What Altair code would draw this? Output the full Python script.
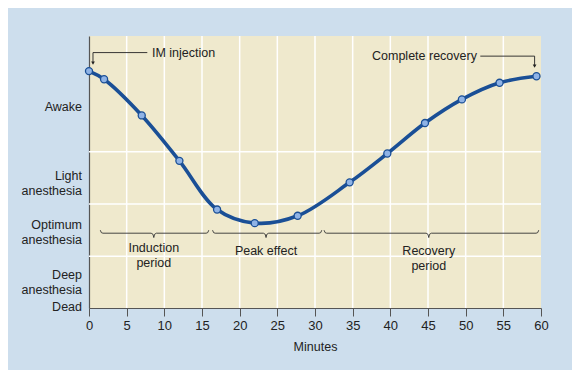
import altair as alt
import pandas as pd

# Curve data (minutes, level on 0-100 scale: 0 = Dead, 100 = top of plot)
minutes = [0, 2, 7, 12, 17, 22, 27.7, 34.6, 39.6, 44.6, 49.5, 54.5, 59.4]
levels = [87.1, 84.1, 70.8, 54.1, 36.2, 31.2, 33.9, 46.2, 56.8, 68.0, 76.7, 82.8, 85.2]

# State labels on y (position of the first text line)
state_labels = ["Awake", "Light\nanesthesia", "Optimum\nanesthesia", "Deep\nanesthesia", "Dead"]
state_pos = [73.8, 48.5, 30.4, 12.3, 0.4]
grid_levels = [19.0, 38.2, 57.4]
x_ticks = list(range(0, 61, 5))

# Period braces
period_names = ["Induction\nperiod", "Peak effect", "Recovery\nperiod"]
period_start = [1.5, 16.4, 31.2]
period_end = [15.9, 30.9, 59.7]
period_mid = [8.6, 23.5, 45.1]
period_label_pos = [21.9, 20.9, 20.9]
brace_level = 27.5

# Annotations
ann_text = ["IM injection", "Complete recovery"]
ann_text_x = [8.36, 37.57]
ann_level = [93.9, 92.6]
ann_line_x1 = [0.53, 51.94]
ann_line_x2 = [7.74, 59.15]
ann_arrow_x = [0.53, 59.15]
ann_arrow_end = [90.0, 88.9]

BLUE = "#1a4f96"
FONT = "Liberation Sans"
TXT = "#222222"

curve = pd.DataFrame({"m": minutes, "v": levels})

xs = alt.Scale(domain=[0, 60], nice=False, zero=False)
ys = alt.Scale(domain=[0, 100], nice=False, zero=False)

XAXIS = alt.Axis(values=x_ticks, grid=False, domainColor="#555555",
                 tickColor="#555555", tickSize=8, domainWidth=1.2,
                 labelOverlap=False, labelFlush=False,
                 labelFontSize=13, labelFont=FONT, labelColor=TXT,
                 labelPadding=3, title="Minutes", titleFont=FONT, titleFontSize=12.5,
                 titleFontWeight="normal", titleColor=TXT,
                 titlePadding=8)
YAXIS = alt.Axis(labels=False, ticks=False, grid=False, title=None,
                 domainColor="#555555", domainWidth=1.2)


def X(field):
    return alt.X(field, scale=xs, axis=XAXIS)


def Y(field):
    return alt.Y(field, scale=ys, axis=YAXIS)


# Brace path points
rows = []
for i, (a, b, c) in enumerate(zip(period_start, period_end, period_mid)):
    d = 0.35
    pts = [
        (a, brace_level + 1.1),
        (a + d * 0.4, brace_level + 0.2),
        (a + d, brace_level),
        (c - d, brace_level),
        (c - d * 0.3, brace_level - 0.4),
        (c, brace_level - 1.6),
        (c + d * 0.3, brace_level - 0.4),
        (c + d, brace_level),
        (b - d, brace_level),
        (b - d * 0.4, brace_level + 0.2),
        (b, brace_level + 1.1),
    ]
    for k, (px, py) in enumerate(pts):
        rows.append({"g": i, "o": k, "m": px, "v": py})
braces = pd.DataFrame(rows)

grid_h = alt.Chart(pd.DataFrame({"v": grid_levels})).mark_rule(
    color="white", strokeWidth=1.5
).encode(y=Y("v:Q"))

grid_v = alt.Chart(pd.DataFrame({"m": x_ticks[1:-1]})).mark_rule(
    color="white", strokeWidth=1.5
).encode(x=X("m:Q"))

line = alt.Chart(curve).mark_line(
    color=BLUE, strokeWidth=3.6, interpolate="catmull-rom"
).encode(x=X("m:Q"), y=Y("v:Q"))

pts = alt.Chart(curve).mark_point(
    filled=True, fill="#8fb3e6", stroke=BLUE, strokeWidth=1.3, size=50, opacity=1
).encode(x=X("m:Q"), y=Y("v:Q"))

ylab = alt.Chart(pd.DataFrame({"t": state_labels, "v": state_pos})).mark_text(
    align="right", baseline="middle", font=FONT, fontSize=12.5, color=TXT,
    lineBreak="\n", lineHeight=15
).encode(x=alt.value(-7), y=Y("v:Q"), text="t:N")

brace_lines = alt.Chart(braces).mark_line(
    color="#333333", strokeWidth=0.9
).encode(x=X("m:Q"), y=Y("v:Q"), detail="g:N", order="o:Q")

plab = alt.Chart(pd.DataFrame({"t": period_names, "m": period_mid,
                               "v": period_label_pos})).mark_text(
    align="center", baseline="middle", font=FONT, fontSize=12.5, color=TXT,
    lineBreak="\n", lineHeight=15
).encode(x=X("m:Q"), y=Y("v:Q"), text="t:N")

ann_df = pd.DataFrame({
    "t": ann_text, "tx": ann_text_x, "v": ann_level,
    "x1": ann_line_x1, "x2": ann_line_x2,
    "ax": ann_arrow_x, "ae": ann_arrow_end,
})

ann_txt = alt.Chart(ann_df).mark_text(
    align="left", baseline="middle", font=FONT, fontSize=12.5, color=TXT
).encode(x=X("tx:Q"), y=Y("v:Q"), text="t:N")

ann_h = alt.Chart(ann_df).mark_rule(color=TXT, strokeWidth=0.9).encode(
    x=X("x1:Q"), x2="x2:Q", y=Y("v:Q")
)
ann_v = alt.Chart(ann_df).mark_rule(color=TXT, strokeWidth=0.9).encode(
    x=X("ax:Q"), y=Y("v:Q"), y2="ae:Q"
)
ann_head = alt.Chart(ann_df).mark_point(
    shape="triangle-down", filled=True, color=TXT, size=14, opacity=1
).encode(x=X("ax:Q"), y=Y("ae:Q"))

chart = alt.layer(
    grid_h, grid_v, brace_lines, plab, ann_h, ann_v, ann_head, ann_txt,
    line, pts, ylab
).properties(
    width=452, height=272,
    autosize=alt.AutoSizeParams(type="none"),
    padding={"left": 81, "top": 28, "right": 31, "bottom": 62},
    background="#cddeed",
).configure_view(
    fill="#efe9cd", stroke=None
)

chart.save("out.html", embed_options={"renderer": "svg", "actions": False})
